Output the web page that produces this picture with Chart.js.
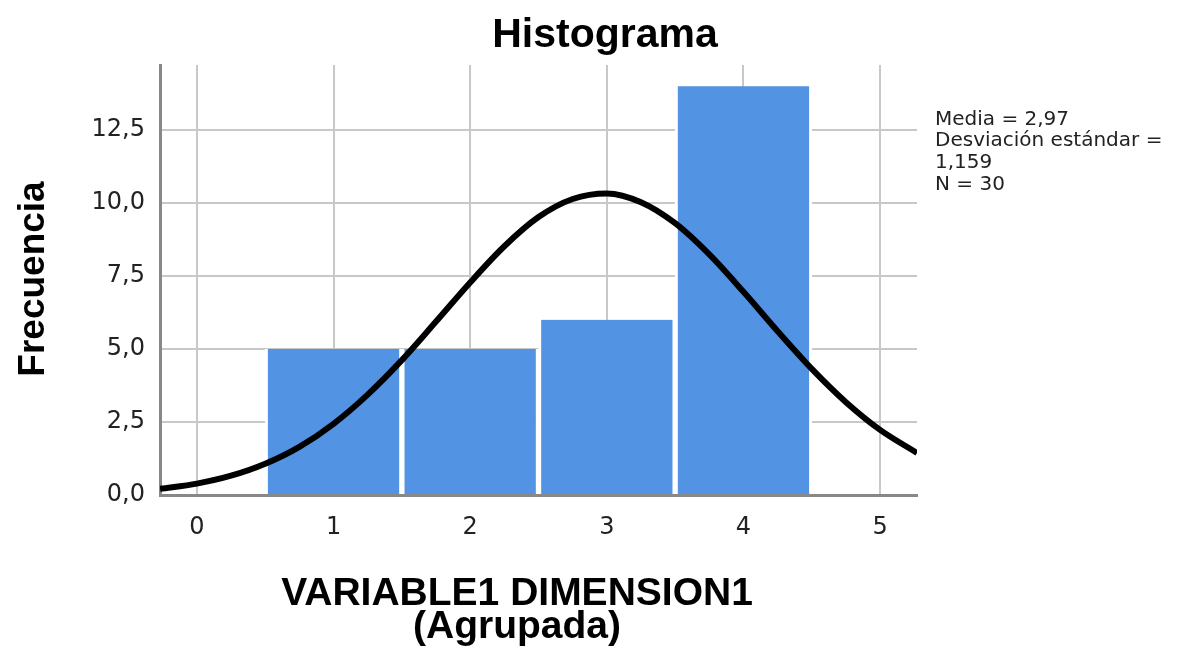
<!DOCTYPE html>
<html><head><meta charset="utf-8">
<script src="https://cdn.jsdelivr.net/npm/chart.js@4/dist/chart.umd.min.js"></script>
<style>html,body{margin:0;padding:0;background:#fff}canvas{display:block}</style>
</head><body>
<canvas id="c" width="1187" height="646"></canvas>
<script>
const BIN_CENTERS = [1, 2, 3, 4];
const FREQUENCIES = [5, 5, 6, 14];
const CURVE_X = [-0.27, 0, 0.25, 0.5, 0.75, 1, 1.25, 1.5, 1.75, 2, 2.25, 2.5, 2.75, 3, 3.25, 3.5, 3.75, 4, 4.25, 4.5, 4.75, 5, 5.27];
const CURVE_Y = [0.21, 0.39, 0.66, 1.07, 1.65, 2.44, 3.44, 4.62, 5.94, 7.28, 8.52, 9.52, 10.14, 10.33, 10.03, 9.31, 8.24, 6.96, 5.61, 4.32, 3.18, 2.23, 1.44];
const X_TICKS = [0, 1, 2, 3, 4, 5];
const Y_TICKS = [0, 2.5, 5, 7.5, 10, 12.5];
const TITLE = 'Histograma';
const X_TITLE = ['VARIABLE1 DIMENSION1', '(Agrupada)'];
const Y_TITLE = 'Frecuencia';
const STATS = ['Media = 2,97', 'Desviación estándar =', '1,159', 'N = 30'];

const textPlugin = {
  id: 'texts',
  afterDraw(chart) {
    const ctx = chart.ctx;
    ctx.save();
    ctx.fillStyle = '#000';
    ctx.textAlign = 'center';
    ctx.textBaseline = 'alphabetic';
    ctx.font = 'bold 41px "Liberation Sans", Arial, sans-serif';
    ctx.fillText(TITLE, 605, 47);
    ctx.font = 'bold 39px "Liberation Sans", Arial, sans-serif';
    ctx.fillText(X_TITLE[0], 517, 605);
    ctx.fillText(X_TITLE[1], 517, 638);
    ctx.save();
    ctx.translate(44, 279);
    ctx.rotate(-Math.PI / 2);
    ctx.font = 'bold 37px "Liberation Sans", Arial, sans-serif';
    ctx.fillText(Y_TITLE, 0, 0);
    ctx.restore();
    ctx.textAlign = 'left';
    ctx.fillStyle = '#222';
    ctx.font = '20px "DejaVu Sans", sans-serif';
    const ys = [125, 146, 168, 190];
    STATS.forEach((s, i) => ctx.fillText(s, 935, ys[i]));
    ctx.restore();
  }
};

new Chart(document.getElementById('c'), {
  data: {
    datasets: [
      {
        type: 'line',
        data: CURVE_X.map((x, i) => ({x, y: CURVE_Y[i]})),
        borderColor: '#000',
        borderWidth: 6,
        pointRadius: 0,
        cubicInterpolationMode: 'monotone',
        order: 0
      },
      {
        type: 'bar',
        data: BIN_CENTERS.map((x, i) => ({x, y: FREQUENCIES[i]})),
        backgroundColor: '#5393e3',
        borderColor: '#ffffff',
        borderWidth: {left: 3, right: 3, top: 0, bottom: 0},
        barPercentage: 1,
        categoryPercentage: 1,
        order: 1
      }
    ]
  },
  options: {
    responsive: false,
    animation: false,
    layout: {padding: {left: 0, top: 65, right: 270, bottom: 0}},
    plugins: {legend: {display: false}, tooltip: {enabled: false}, title: {display: false}},
    scales: {
      x: {
        type: 'linear',
        offset: false,
        min: -0.27,
        max: 5.27,
        afterBuildTicks: s => { s.ticks = X_TICKS.map(v => ({value: v})); },
        afterFit: s => { s.height = 151; },
        ticks: {
          padding: 18,
          color: '#222',
          font: {family: '"DejaVu Sans", sans-serif', size: 24},
          callback: v => String(v)
        },
        grid: {color: '#c8c8c8', lineWidth: 2, drawTicks: false, offset: false},
        border: {display: true, color: '#888', width: 3}
      },
      y: {
        type: 'linear',
        min: 0,
        max: 14.73,
        afterBuildTicks: s => { s.ticks = Y_TICKS.map(v => ({value: v})); },
        afterFit: s => { s.width = 160; },
        ticks: {
          padding: 15,
          color: '#222',
          font: {family: '"DejaVu Sans", sans-serif', size: 24},
          callback: v => v.toFixed(1).replace('.', ',')
        },
        grid: {color: '#c8c8c8', lineWidth: 2, drawTicks: false},
        border: {display: true, color: '#888', width: 3}
      }
    }
  },
  plugins: [textPlugin]
});
</script>
</body></html>
